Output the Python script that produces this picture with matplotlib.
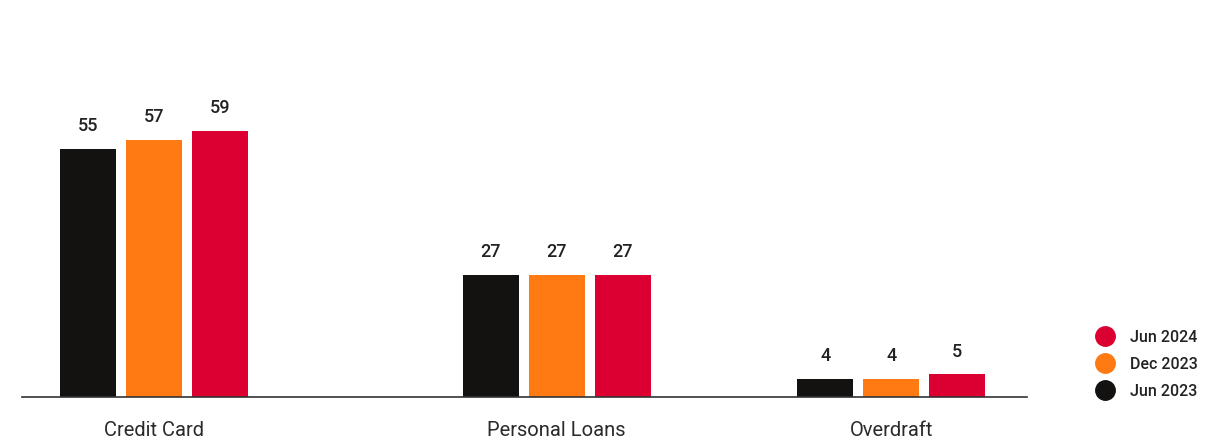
import numpy as np
import matplotlib as mpl
mpl.use('Agg')
import matplotlib.pyplot as plt
from matplotlib.lines import Line2D

categories = ['Credit Card', 'Personal Loans', 'Overdraft']
series = ['Jun 2023', 'Dec 2023', 'Jun 2024']
jun_2023 = [55, 27, 4]
dec_2023 = [57, 27, 4]
jun_2024 = [59, 27, 5]

colors = ['#141210', '#FF7A12', '#DC0032']
centers = np.array([2.0, 8.1, 13.17])  # group positions, in bar steps
width = 0.85

plt.rcParams['font.family'] = ['Roboto', 'DejaVu Sans']

fig = plt.figure(figsize=(12.14, 4.40), dpi=100)
ax = fig.add_axes([22 / 1214, 43 / 440, 1005 / 1214, 397 / 440])

for i, (vals, col) in enumerate(zip([jun_2023, dec_2023, jun_2024], colors)):
    xs = centers + (i - 1)
    bars = ax.bar(xs, vals, width=width, color=col)
    for b, v in zip(bars, vals):
        ax.annotate(str(v), (b.get_x() + b.get_width() / 2, v),
                    xytext=(0, 10), textcoords='offset points',
                    ha='center', va='bottom', fontsize=13,
                    fontweight='medium', color='#222222')

ax.set_xlim(0, 1005 / 66)
ax.set_ylim(0, 88)
ax.set_xticks(centers)
ax.set_xticklabels(categories, fontsize=14.5, color='#2a2a2a')
ax.tick_params(axis='x', length=0, pad=17)
ax.set_yticks([])
for s in ['top', 'right', 'left']:
    ax.spines[s].set_visible(False)
ax.spines['bottom'].set_color('#333333')
ax.spines['bottom'].set_linewidth(1.2)

handles = [Line2D([], [], marker='o', linestyle='none', markersize=14,
                  color=colors[i]) for i in [2, 1, 0]]
labels = [series[i] for i in [2, 1, 0]]
leg = fig.legend(handles, labels, loc='lower right',
                 bbox_to_anchor=(1206 / 1214, 33 / 440), frameon=False,
                 prop={'weight': 'medium', 'size': 11.5}, handletextpad=0.6,
                 labelspacing=0.75, borderpad=0)
for t in leg.get_texts():
    t.set_color('#222222')

fig.savefig('out.png', dpi=100)
